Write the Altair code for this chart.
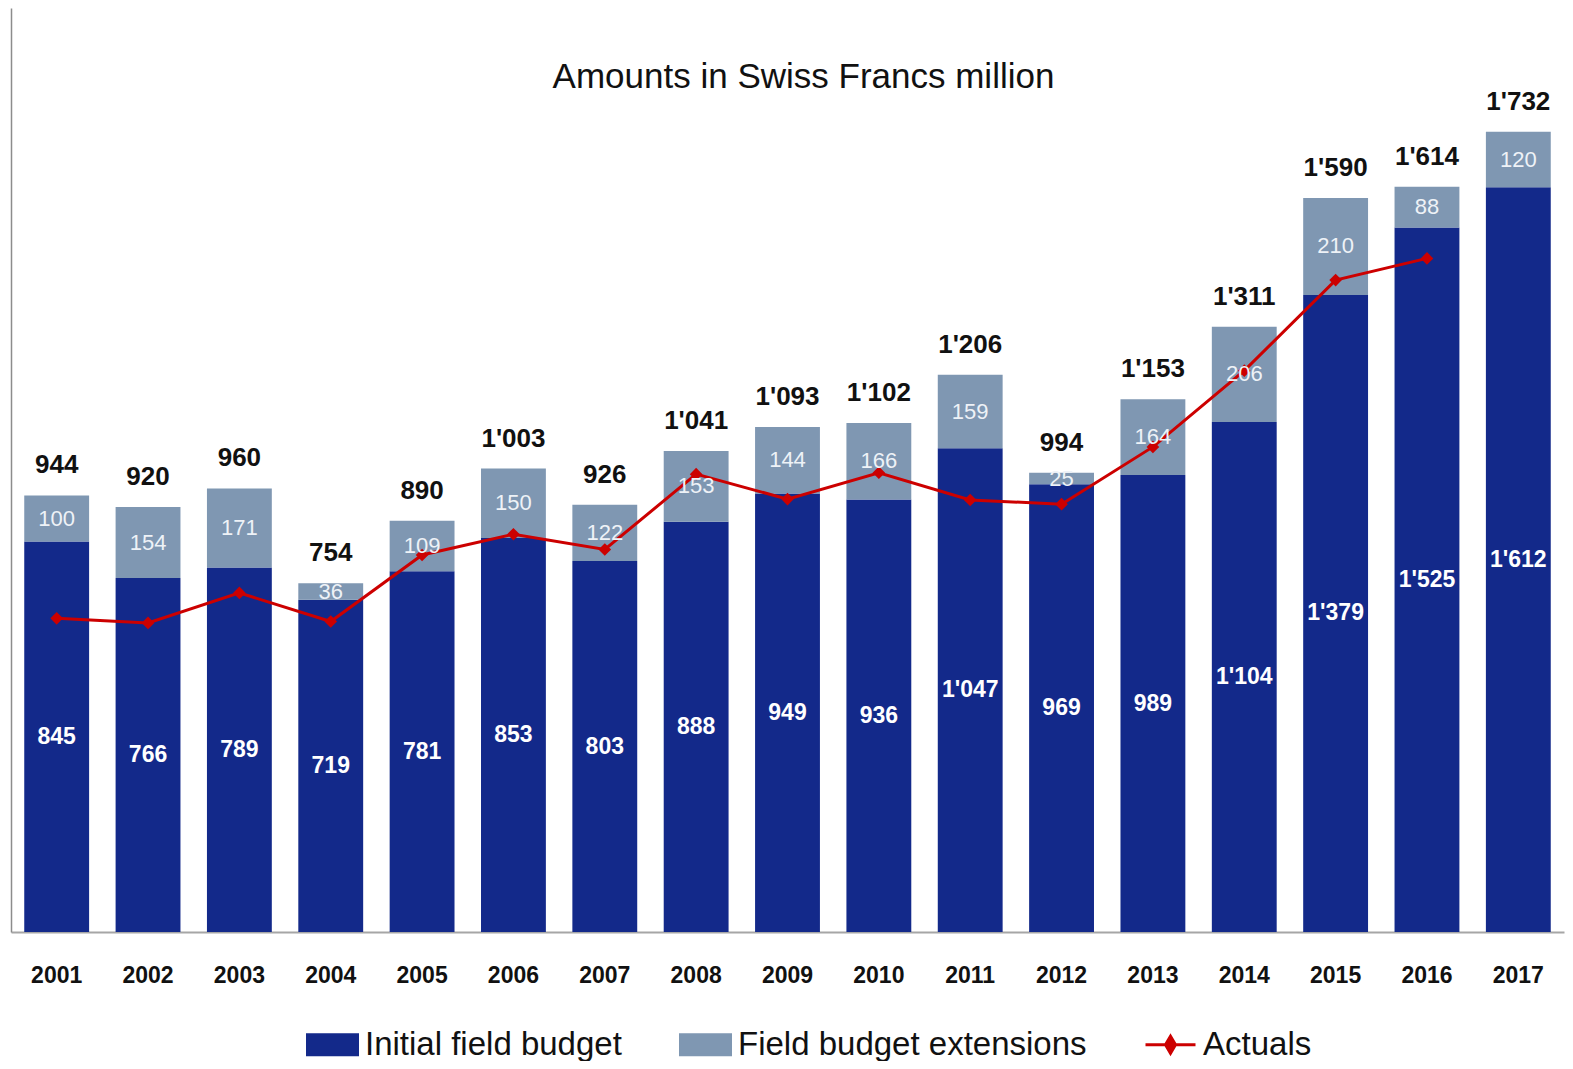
import altair as alt
import pandas as pd

years = [str(y) for y in range(2001, 2018)]
initial = [845, 766, 789, 719, 781, 853, 803, 888, 949, 936, 1047, 969, 989, 1104, 1379, 1525, 1612]
extensions = [100, 154, 171, 36, 109, 150, 122, 153, 144, 166, 159, 25, 164, 206, 210, 88, 120]
totals = [944, 920, 960, 754, 890, 1003, 926, 1041, 1093, 1102, 1206, 994, 1153, 1311, 1590, 1614, 1732]
actuals = [679, 669, 734, 672, 816, 861, 828, 991, 937, 994, 935, 926, 1050, 1215, 1411, 1458, None]

SER_INIT = "Initial field budget"
SER_EXT = "Field budget extensions"
SER_ACT = "Actuals"
SERIES = [SER_INIT, SER_EXT, SER_ACT]

C_INIT = "#13298a"
C_EXT = "#7f97b2"
C_ACT = "#cc0000"
FONT = "Liberation Sans"

RECT_PATH = "M-1,-0.4H1V0.4H-1Z"
LINE_DIAMOND_PATH = "M-1,0H1M0,-0.34L0.2,0L0,0.34L-0.2,0Z"


def fmt(v):
    return f"{v:,}".replace(",", "'")


rows = []
for y, a, e in zip(years, initial, extensions):
    rows.append({"year": y, "series": SER_INIT, "lo": 0, "hi": a, "mid": a / 2, "label": fmt(a)})
    rows.append({"year": y, "series": SER_EXT, "lo": a, "hi": a + e, "mid": a + e / 2, "label": fmt(e)})
bars_df = pd.DataFrame(rows)

tot_df = pd.DataFrame({"year": years, "top": [a + e for a, e in zip(initial, extensions)],
                       "label": [fmt(t) for t in totals]})
act_df = pd.DataFrame({"year": years, "value": actuals, "series": SER_ACT}).dropna()

x_enc = alt.X("year:N", title=None, sort=years,
              scale=alt.Scale(paddingInner=0.29, paddingOuter=0.145),
              axis=alt.Axis(labelAngle=0, ticks=False, labelPadding=32, labelFontSize=23,
                            labelFontWeight="bold", labelFont=FONT, labelColor="#111",
                            domainColor="#a6a6a6", domainWidth=2))
x_plain = alt.X("year:N", sort=years)
y_scale = alt.Scale(domain=[0, 2000], nice=False)
y_axis = alt.Axis(labels=False, ticks=False, grid=False, title=None,
                  domainColor="#8c8c8c", domainWidth=1.5)

legend = alt.Legend(
    title=None, orient="none", direction="horizontal", legendX=295, legendY=1010,
    labelFont=FONT, labelFontSize=33, labelColor="#111", labelLimit=600,
    labelOffset=6, columnPadding=52, symbolSize=2500, symbolStrokeWidth=3,
    symbolOpacity=1,
)

color_enc = alt.Color("series:N", scale=alt.Scale(domain=SERIES, range=[C_INIT, C_EXT, C_ACT]),
                      legend=legend)

bars = alt.Chart(bars_df).mark_bar().encode(
    x=x_enc,
    y=alt.Y("lo:Q", scale=y_scale, axis=y_axis),
    y2="hi:Q",
    color=color_enc,
)

line = alt.Chart(act_df).mark_line(
    strokeWidth=3, point=alt.OverlayMarkDef(shape="diamond", size=160, filled=True, color=C_ACT)
).encode(
    x=x_plain,
    y=alt.Y("value:Q", scale=y_scale),
    color=alt.Color("series:N"),
)

# legend-only layer: supplies per-entry symbol shapes/strokes for the shared legend
legend_layer = alt.Chart(act_df).transform_filter("false").mark_point(filled=True).encode(
    x=x_plain,
    y=alt.Y("value:Q", scale=y_scale),
    color=alt.Color("series:N"),
    shape=alt.Shape("series:N", scale=alt.Scale(domain=SERIES,
                                                range=[RECT_PATH, RECT_PATH, LINE_DIAMOND_PATH]),
                    legend=legend),
    stroke=alt.Stroke("series:N", scale=alt.Scale(domain=SERIES,
                                                  range=["transparent", "transparent", C_ACT]),
                      legend=legend),
)

init_text = alt.Chart(bars_df).transform_filter(
    alt.datum.series == SER_INIT
).mark_text(font=FONT, fontSize=23, fontWeight="bold", color="white", baseline="middle").encode(
    x=x_plain, y=alt.Y("mid:Q", scale=y_scale), text="label:N"
)

ext_text = alt.Chart(bars_df).transform_filter(
    alt.datum.series == SER_EXT
).mark_text(font=FONT, fontSize=22, color="#eef2f7", baseline="middle").encode(
    x=x_plain, y=alt.Y("mid:Q", scale=y_scale), text="label:N"
)

tot_text = alt.Chart(tot_df).mark_text(
    font=FONT, fontSize=26, fontWeight="bold", color="#111", baseline="alphabetic", dy=-22
).encode(
    x=x_plain, y=alt.Y("top:Q", scale=y_scale), text="label:N"
)

chart = alt.layer(bars, line, legend_layer, init_text, ext_text, tot_text).properties(
    width=1553, height=924,
    title=alt.TitleParams("Amounts in Swiss Francs million", font=FONT, fontSize=35,
                          fontWeight="normal", color="#111", anchor="middle", dy=91, dx=16),
    autosize=alt.AutoSizeParams(type="none"),
    padding={"left": 3, "top": 0, "right": 1, "bottom": 129},
    background="white",
).configure_view(stroke="transparent", strokeWidth=0)

chart.save("out.html", embed_options={"renderer": "svg", "actions": False})
